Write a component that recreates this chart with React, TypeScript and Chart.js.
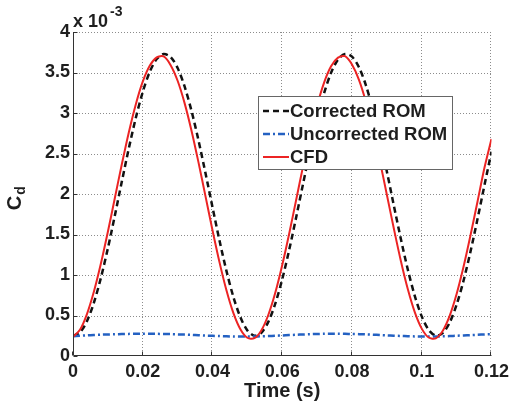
import React, { useEffect, useRef } from "react";
import { Chart, registerables } from "chart.js";

Chart.register(...registerables);

// Time (s)
const TIME = [
  0, 0.002, 0.004, 0.006, 0.008, 0.01, 0.012, 0.014, 0.016, 0.018,
  0.02, 0.022, 0.024, 0.026, 0.028, 0.03, 0.032, 0.034, 0.036, 0.038,
  0.04, 0.042, 0.044, 0.046, 0.048, 0.05, 0.052, 0.054, 0.056, 0.058,
  0.06, 0.062, 0.064, 0.066, 0.068, 0.07, 0.072, 0.074, 0.076, 0.078,
  0.08, 0.082, 0.084, 0.086, 0.088, 0.09, 0.092, 0.094, 0.096, 0.098,
  0.1, 0.102, 0.104, 0.106, 0.108, 0.11, 0.112, 0.114, 0.116, 0.118,
  0.12,
];

// C_d values (x 10^-3)
const CORRECTED_ROM = [
  0.25, 0.291, 0.43, 0.659, 0.965, 1.33, 1.734, 2.153, 2.562, 2.938,
  3.259, 3.507, 3.666, 3.729, 3.691, 3.555, 3.328, 3.023, 2.659, 2.256,
  1.838, 1.428, 1.051, 0.728, 0.479, 0.316, 0.251, 0.287, 0.421, 0.646,
  0.948, 1.311, 1.714, 2.132, 2.542, 2.92, 3.244, 3.496, 3.661, 3.728,
  3.696, 3.564, 3.341, 3.04, 2.678, 2.277, 1.858, 1.448, 1.068, 0.743,
  0.489, 0.322, 0.252, 0.282, 0.412, 0.633, 0.932, 1.292, 1.693, 2.111,
  2.522,
];

const UNCORRECTED_ROM = [
  0.245, 0.25, 0.255, 0.259, 0.263, 0.266, 0.269, 0.271, 0.273, 0.274,
  0.275, 0.275, 0.274, 0.272, 0.27, 0.267, 0.264, 0.26, 0.256, 0.252,
  0.249, 0.246, 0.243, 0.241, 0.24, 0.24, 0.241, 0.243, 0.246, 0.25,
  0.254, 0.258, 0.262, 0.266, 0.269, 0.272, 0.274, 0.275, 0.275, 0.274,
  0.272, 0.27, 0.267, 0.263, 0.259, 0.255, 0.251, 0.248, 0.245, 0.242,
  0.241, 0.24, 0.241, 0.243, 0.246, 0.25, 0.254, 0.258, 0.262, 0.266,
  0.269,
];

const CFD = [
  0.235, 0.323, 0.518, 0.796, 1.141, 1.533, 1.95, 2.367, 2.76, 3.106,
  3.387, 3.583, 3.686, 3.698, 3.591, 3.398, 3.122, 2.778, 2.387, 1.971,
  1.553, 1.159, 0.811, 0.529, 0.33, 0.225, 0.22, 0.316, 0.506, 0.78,
  1.123, 1.513, 1.929, 2.347, 2.742, 3.091, 3.375, 3.576, 3.683, 3.701,
  3.598, 3.41, 3.137, 2.797, 2.407, 1.991, 1.574, 1.177, 0.827, 0.542,
  0.338, 0.228, 0.218, 0.309, 0.495, 0.765, 1.104, 1.493, 1.908, 2.327,
  2.68,
];

const SERIES_NAMES = ["Corrected ROM", "Uncorrected ROM", "CFD"];

const X_TICKS = [0, 0.02, 0.04, 0.06, 0.08, 0.1, 0.12];
const X_TICK_LABELS = ["0", "0.02", "0.04", "0.06", "0.08", "0.1", "0.12"];
const Y_TICKS = [0, 0.5, 1, 1.5, 2, 2.5, 3, 3.5, 4];
const Y_TICK_LABELS = ["0", "0.5", "1", "1.5", "2", "2.5", "3", "3.5", "4"];

const X_TITLE = "Time (s)";
const Y_TITLE_MAIN = "C";
const Y_TITLE_SUB = "d";
const EXP_BASE = "x 10";
const EXP_POWER = "-3";

const FONT = '"Liberation Sans", Arial, Helvetica, sans-serif';
const TEXT_COLOR = "#1e1e1e";
const BLACK = "#111111";
const BLUE = "#2461c2";
const RED = "#ec2424";

const STYLES = [
  { color: BLACK, width: 2.5, dash: [6, 4] },
  { color: BLUE, width: 2.5, dash: [7, 3, 2, 3] },
  { color: RED, width: 2, dash: [] as number[] },
];

const decorPlugin = {
  id: "matlabDecor",
  beforeDatasetsDraw(chart: any) {
    const { ctx, chartArea, scales } = chart;
    const { left, right, top, bottom } = chartArea;
    ctx.save();
    ctx.strokeStyle = "#8c8c8c";
    ctx.lineWidth = 1;
    ctx.setLineDash([1, 2]);
    X_TICKS.forEach((v) => {
      if (v === X_TICKS[0]) return;
      const px = Math.round(scales.x.getPixelForValue(v)) - 0.5;
      ctx.beginPath();
      ctx.moveTo(px, top);
      ctx.lineTo(px, bottom);
      ctx.stroke();
    });
    Y_TICKS.forEach((v) => {
      if (v === Y_TICKS[0]) return;
      const py = Math.round(scales.y.getPixelForValue(v)) + 0.5;
      ctx.beginPath();
      ctx.moveTo(left, py);
      ctx.lineTo(right, py);
      ctx.stroke();
    });
    ctx.restore();
  },
  afterDatasetsDraw(chart: any) {
    const { ctx, chartArea, scales } = chart;
    const { left, right, top, bottom } = chartArea;
    ctx.save();
    ctx.setLineDash([]);
    ctx.strokeStyle = "#333333";
    ctx.lineWidth = 1;
    const ax = Math.round(left) + 0.5;
    const ay = Math.round(bottom) - 0.5;
    ctx.beginPath();
    ctx.moveTo(ax, top);
    ctx.lineTo(ax, ay);
    ctx.lineTo(right, ay);
    ctx.stroke();
    // inward ticks
    X_TICKS.forEach((v) => {
      const px = Math.round(scales.x.getPixelForValue(v)) - 0.5;
      ctx.beginPath();
      ctx.moveTo(px, ay);
      ctx.lineTo(px, ay - 4);
      ctx.stroke();
    });
    Y_TICKS.forEach((v) => {
      const py = Math.round(scales.y.getPixelForValue(v)) + 0.5;
      ctx.beginPath();
      ctx.moveTo(ax, py);
      ctx.lineTo(ax + 4, py);
      ctx.stroke();
    });

    // legend
    const lx = 258.5, ly = 96.5, lw = 194, lh = 73;
    ctx.fillStyle = "#ffffff";
    ctx.fillRect(lx, ly, lw, lh);
    ctx.strokeStyle = "#666666";
    ctx.lineWidth = 1;
    ctx.strokeRect(lx, ly, lw, lh);
    const rows = [111, 134, 157];
    ctx.font = `bold 18.5px ${FONT}`;
    ctx.textBaseline = "middle";
    ctx.textAlign = "left";
    SERIES_NAMES.forEach((name, i) => {
      const st = STYLES[i];
      ctx.strokeStyle = st.color;
      ctx.lineWidth = st.width;
      ctx.setLineDash(st.dash);
      ctx.beginPath();
      ctx.moveTo(263, rows[i]);
      ctx.lineTo(289, rows[i]);
      ctx.stroke();
      ctx.setLineDash([]);
      ctx.fillStyle = TEXT_COLOR;
      ctx.fillText(name, 290, rows[i] + 1);
    });
    ctx.restore();
  },
  afterDraw(chart: any) {
    const { ctx } = chart;
    ctx.save();
    ctx.fillStyle = TEXT_COLOR;
    ctx.textBaseline = "alphabetic";
    ctx.textAlign = "left";
    // exponent label
    ctx.font = `bold 18px ${FONT}`;
    ctx.fillText(EXP_BASE, 73, 27);
    const w = ctx.measureText(EXP_BASE).width;
    ctx.font = `bold 14px ${FONT}`;
    ctx.fillText(EXP_POWER, 73 + w + 2, 16);

    // y title (rotated)
    ctx.translate(21, 200);
    ctx.rotate(-Math.PI / 2);
    ctx.font = `bold 20px ${FONT}`;
    const cw = ctx.measureText(Y_TITLE_MAIN).width;
    ctx.fillText(Y_TITLE_MAIN, -cw / 2 - 3, 0);
    ctx.font = `bold 14px ${FONT}`;
    ctx.fillText(Y_TITLE_SUB, cw / 2 - 2, 4);
    ctx.restore();

    // x title
    ctx.save();
    ctx.fillStyle = TEXT_COLOR;
    ctx.font = `bold 20px ${FONT}`;
    ctx.textAlign = "center";
    ctx.textBaseline = "alphabetic";
    const { left, right } = chart.chartArea;
    ctx.fillText(X_TITLE, (left + right) / 2, 397);
    ctx.restore();
  },
};

export default function App() {
  const canvasRef = useRef<HTMLCanvasElement | null>(null);

  useEffect(() => {
    const canvas = canvasRef.current;
    if (!canvas) return;
    const series = [CORRECTED_ROM, UNCORRECTED_ROM, CFD];
    const orders = [2, 1, 0];
    const chart = new Chart(canvas, {
      type: "line",
      data: {
        datasets: series.map((vals, i) => ({
          label: SERIES_NAMES[i],
          data: vals.map((v, j) => ({ x: TIME[j], y: v })),
          borderColor: STYLES[i].color,
          borderWidth: STYLES[i].width,
          borderDash: STYLES[i].dash,
          pointRadius: 0,
          fill: false,
          tension: 0.3,
          order: orders[i],
        })),
      },
      options: {
        animation: false,
        responsive: false,
        maintainAspectRatio: false,
        events: [],
        layout: { padding: { left: 0, right: 20, top: 32, bottom: 0 } },
        plugins: {
          legend: { display: false },
          tooltip: { enabled: false },
          title: { display: false },
        },
        scales: {
          x: {
            type: "linear",
            min: 0,
            max: 0.12,
            grid: { display: false, drawTicks: false },
            border: { display: false },
            afterBuildTicks: (s: any) => {
              s.ticks = X_TICKS.map((v) => ({ value: v }));
            },
            afterFit: (s: any) => {
              s.height = 47;
            },
            ticks: {
              autoSkip: false,
              maxRotation: 0,
              padding: 5,
              color: TEXT_COLOR,
              font: { family: FONT, size: 18, weight: "bold" },
              callback: (v: any) => X_TICK_LABELS[X_TICKS.indexOf(Number(v))] ?? "",
            },
          },
          y: {
            type: "linear",
            min: 0,
            max: 4,
            grid: { display: false, drawTicks: false },
            border: { display: false },
            afterBuildTicks: (s: any) => {
              s.ticks = Y_TICKS.map((v) => ({ value: v }));
            },
            afterFit: (s: any) => {
              s.width = 73;
            },
            ticks: {
              autoSkip: false,
              padding: 3,
              color: TEXT_COLOR,
              font: { family: FONT, size: 18, weight: "bold" },
              callback: (v: any) => Y_TICK_LABELS[Y_TICKS.indexOf(Number(v))] ?? "",
            },
          },
        },
      } as any,
      plugins: [decorPlugin],
    });
    return () => chart.destroy();
  }, []);

  return (
    <div
      style={{
        position: "fixed",
        left: 0,
        top: 0,
        width: 514,
        height: 403,
        background: "#ffffff",
      }}
    >
      <canvas
        ref={canvasRef}
        width={514}
        height={403}
        style={{ width: 514, height: 403, display: "block" }}
      />
    </div>
  );
}
